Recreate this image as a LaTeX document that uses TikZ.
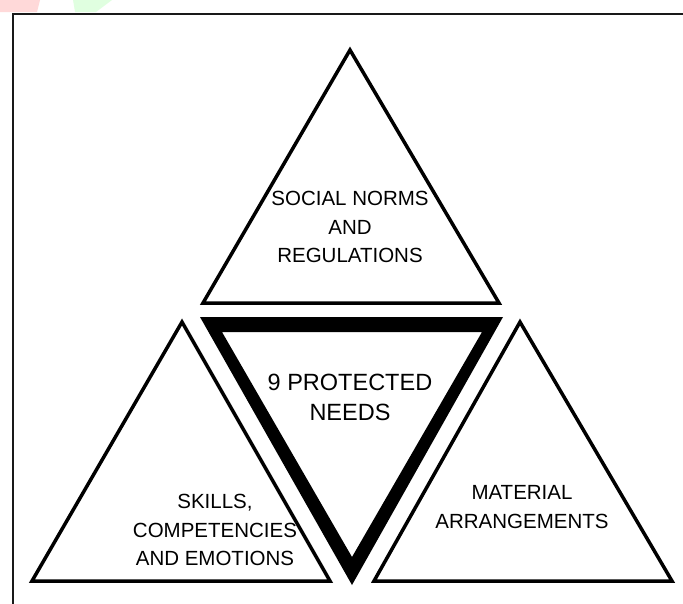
\documentclass[tikz,border=0pt]{standalone}
\usepackage{fontspec}
\setmainfont{Liberation Sans}
\tikzset{
    tri/.style={draw=black, line width=3.5pt, line join=miter},
    lbl/.style={align=center, font=\fontsize{20.5}{28.5}\selectfont},
    biglbl/.style={align=center, font=\fontsize{23.5}{30}\selectfont}
}
\begin{document}
\begin{tikzpicture}[x=1pt,y=-1pt]
    \useasboundingbox (0,0) rectangle (683,603);
    \clip (0,0) rectangle (683,603);

    %Logo rest
        \fill[red!15] (0,0)--(40,0)--(37,12)--(0,12)--cycle;
        \fill[green!12] (73,0)--(112,0)--(96,12)--(75,12)--cycle;

    %Ramme
        \draw[line width=2pt, black!90] (13,700)--(13,14)--(700,14);

    %Hjorner
        \coordinate (top-a) at (350,50);
        \coordinate (top-l) at (203,303);
        \coordinate (top-r) at (499,303);
        \coordinate (lft-a) at (182,322);
        \coordinate (lft-l) at (32,581);
        \coordinate (lft-r) at (330,581);
        \coordinate (rgt-a) at (520,322);
        \coordinate (rgt-l) at (374,581);
        \coordinate (rgt-r) at (672,581);

    %Trekanter
        \draw[tri] (top-a)--(top-l)--(top-r)--cycle;
        \draw[tri] (lft-a)--(lft-l)--(lft-r)--cycle;
        \draw[tri] (rgt-a)--(rgt-l)--(rgt-r)--cycle;

    %Midten
        \fill[black, even odd rule] (200,317)--(503,317)--(352,585)--cycle
                                    (222,332)--(482,332)--(352,557)--cycle;

    %Tekst
        \node[lbl] (norms) at (350,227) {SOCIAL NORMS\\AND\\REGULATIONS};
        \node[biglbl] (needs) at (350,397) {9 PROTECTED\\NEEDS};
        \node[lbl] (skills) at (215,530) {SKILLS,\\COMPETENCIES\\AND EMOTIONS};
        \node[lbl] (material) at (522,507) {MATERIAL\\ARRANGEMENTS};
\end{tikzpicture}
\end{document}
